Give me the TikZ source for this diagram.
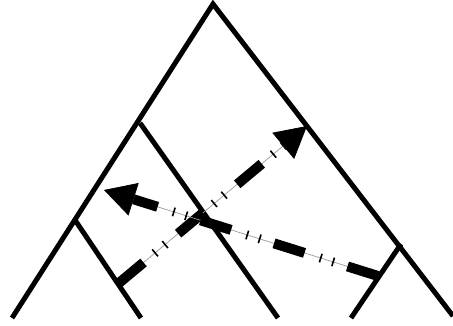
\documentclass[tikz,border=0pt]{standalone}
\usetikzlibrary{arrows.meta, calc}
\definecolor{branchink}{HTML}{000000}
\definecolor{flowgray}{HTML}{9A9A9A}

\tikzset{
  branch/.style={draw=branchink, line width=5pt, line cap=butt, line join=miter},
  flowline/.style={draw=flowgray, line width=0.7pt,
    -{Triangle[length=31pt, width=34pt, color=branchink, fill=branchink]}},
  flowbar/.style={draw=branchink, line width=10pt, line cap=butt,
    dash pattern=on 32pt off 45pt, shorten >=31pt},
  flowtick/.style={draw=branchink, line width=9pt, line cap=butt,
    dash pattern=on 1.6pt off 11.4pt on 1.6pt off 62.4pt, dash phase=30.8pt, shorten >=31pt},
}

\begin{document}
\begin{tikzpicture}[x=1pt, y=-1pt]
    \useasboundingbox (0,0) rectangle (453,326);

    % tree
    \coordinate (root) at (213,4);
    \coordinate (leafA) at (12,318);
    \coordinate (leafD) at (453,316);
    \coordinate (forkB) at (140,123);
    \coordinate (leafC) at (278,318);
    \coordinate (forkA) at (75,220);
    \coordinate (leafB) at (141,318);
    \coordinate (forkC) at (401,244);
    \coordinate (leafE) at (351,318);

    \draw[branch] (leafA) -- (root) -- (leafD);
    \draw[branch] (forkB) -- (leafC);
    \draw[branch] (forkA) -- (leafB);
    \draw[branch] (forkC) -- (leafE);

    % transfers
    \coordinate (fromA) at (119,283);
    \coordinate (toD) at (307,126);
    \coordinate (fromC) at (378,276);
    \coordinate (toA) at (104,190);

    \draw[flowline] (fromA) -- (toD);
    \draw[flowbar] (fromA) -- (toD);
    \draw[flowtick] (fromA) -- (toD);

    \draw[flowline] (fromC) -- (toA);
    \draw[flowbar] (fromC) -- (toA);
    \draw[flowtick] (fromC) -- (toA);
  \end{tikzpicture}
\end{document}
